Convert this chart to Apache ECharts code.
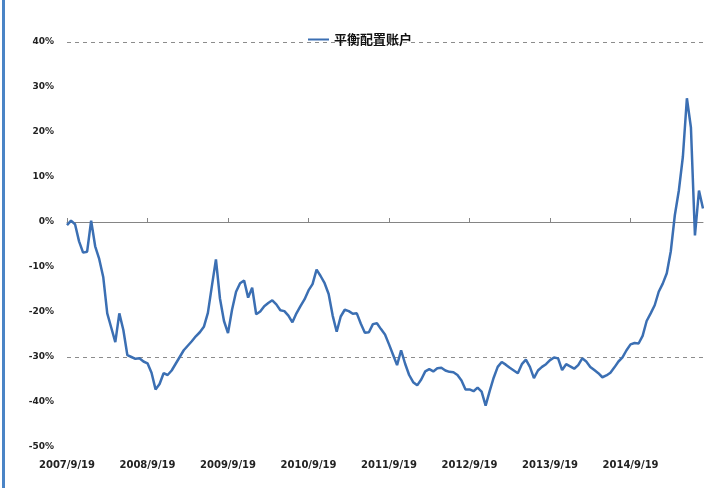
<!DOCTYPE html>
<html>
<head>
<meta charset="utf-8">
<script src="https://cdn.jsdelivr.net/npm/echarts@6/dist/echarts.min.js"></script>
<style>
  html, body { margin: 0; padding: 0; background: #ffffff; }
  #chart { position: absolute; left: 0; top: 0; width: 704px; height: 488px; }
  #edge { position: absolute; left: 2px; top: 0; width: 3px; height: 488px; background: #4a84c6; }
</style>
</head>
<body>
<div id="chart"></div>
<div id="edge"></div>
<script>
const seriesName = '平衡配置账户';
const tickLabels = ['2007/9/19', '2008/9/19', '2009/9/19', '2010/9/19', '2011/9/19', '2012/9/19', '2013/9/19', '2014/9/19'];
const yTicks = { min: -50, max: 40, interval: 10 };
// approx. 20 readings per year, from 2007/9/19
const values = [
  -0.7, 0.3, -0.5, -4.3, -6.8, -6.6, 0.3, -5.4, -8.2, -12.2,
  -20.3, -23.5, -26.7, -20.3, -24.0, -29.6, -30.0, -30.4, -30.3, -31.0,
  -31.4, -33.5, -37.2, -36.0, -33.6, -34.0, -33.0, -31.5, -30.0, -28.5,
  -27.5, -26.5, -25.4, -24.5, -23.3, -20.2, -14.2, -8.3, -17.0, -22.0,
  -24.7, -19.5, -15.5, -13.6, -13.0, -16.8, -14.6, -20.5, -19.9, -18.7,
  -18.0, -17.4, -18.3, -19.6, -19.8, -20.8, -22.3, -20.3, -18.7, -17.2,
  -15.2, -13.8, -10.6, -12.0, -13.6, -16.0, -20.8, -24.4, -21.0, -19.5,
  -19.8, -20.4, -20.3, -22.6, -24.6, -24.5, -22.7, -22.5, -23.8, -25.0,
  -27.2, -29.5, -31.8, -28.5, -31.5, -34.0, -35.6, -36.3, -35.0, -33.2,
  -32.7, -33.2, -32.5, -32.4, -33.0, -33.3, -33.4, -34.0, -35.2, -37.2,
  -37.2, -37.6, -36.8, -37.7, -40.8, -37.6, -34.6, -32.2, -31.1, -31.7,
  -32.4, -33.0, -33.6, -31.6, -30.6, -32.2, -34.7, -33.0, -32.2, -31.6,
  -30.7, -30.1, -30.3, -32.9, -31.6, -32.1, -32.6, -31.8, -30.3, -31.0,
  -32.2, -32.9, -33.6, -34.5, -34.1, -33.5, -32.3, -31.0, -30.1, -28.5,
  -27.2, -26.9, -27.0, -25.3, -22.0, -20.3, -18.5, -15.5, -13.7, -11.4,
  -6.5, 1.5, 7.0, 14.5, 27.5, 21.0, -3.0, 7.0, 3.0
];
const perYear = 20;

function pad(n) { return String(n); }
const startDate = new Date(2007, 8, 19);
const categories = values.map(function (v, i) {
  if (i % perYear === 0) return tickLabels[i / perYear];
  const d = new Date(startDate.getTime());
  d.setDate(d.getDate() + Math.round(i * 365.25 / perYear));
  return d.getFullYear() + '/' + pad(d.getMonth() + 1) + '/' + pad(d.getDate());
});

const splitColors = [];
for (let v = yTicks.min; v <= yTicks.max; v += yTicks.interval) {
  splitColors.push(v === 40 || v === -30 ? '#8c8c8c' : 'rgba(0,0,0,0)');
}

const chart = echarts.init(document.getElementById('chart'), null, { renderer: 'canvas' });
chart.setOption({
  animation: false,
  backgroundColor: '#ffffff',
  legend: {
    left: 303,
    top: 28,
    icon: 'rect',
    itemWidth: 21,
    itemHeight: 2,
    itemGap: 4,
    textStyle: { fontFamily: 'Noto Sans CJK SC', fontSize: 13, color: '#111', fontWeight: 'bold' },
    data: [seriesName]
  },
  grid: { left: 67, right: 1, top: 42, bottom: 41, containLabel: false },
  xAxis: [
    {
      type: 'category',
      data: categories,
      boundaryGap: false,
      position: 'bottom',
      axisLine: { show: false, onZero: false },
      axisTick: { show: false },
      splitLine: { show: false },
      axisLabel: {
        interval: perYear - 1,
        margin: 13,
        fontFamily: 'DejaVu Sans',
        fontSize: 10,
        fontWeight: 'bold',
        color: '#222'
      }
    },
    {
      type: 'category',
      data: categories,
      boundaryGap: false,
      position: 'top',
      axisLine: { show: true, onZero: true, lineStyle: { color: '#858585', width: 1 } },
      axisTick: { show: true, inside: false, interval: perYear - 1, length: 4, lineStyle: { color: '#858585' } },
      axisLabel: { show: false },
      splitLine: { show: false }
    }
  ],
  yAxis: {
    type: 'value',
    min: yTicks.min,
    max: yTicks.max,
    interval: yTicks.interval,
    axisLine: { show: false },
    axisTick: { show: false },
    axisLabel: {
      formatter: '{value}%',
      margin: 13,
      fontFamily: 'DejaVu Sans',
      fontSize: 9,
      fontWeight: 'bold',
      color: '#222'
    },
    splitLine: { show: true, lineStyle: { color: splitColors, type: [4, 4], width: 1 } }
  },
  series: [
    {
      name: seriesName,
      type: 'line',
      xAxisIndex: 0,
      data: values,
      symbol: 'none',
      lineStyle: { color: '#3b6fb3', width: 2.5 },
      itemStyle: { color: '#3b6fb3' }
    }
  ]
});
</script>
</body>
</html>
